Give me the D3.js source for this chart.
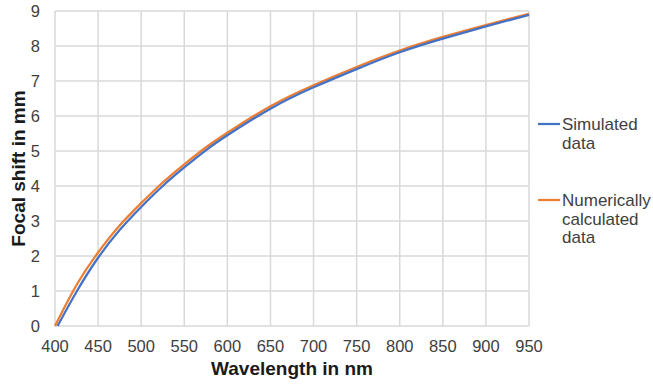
<!DOCTYPE html>
<html>
<head>
<meta charset="utf-8">
<script src="https://cdn.jsdelivr.net/npm/d3@7"></script>
<style>
  body { margin: 0; background: #fff; }
  svg { display: block; font-family: "Liberation Sans", Arial, sans-serif; }
</style>
</head>
<body>
<div id="chart"></div>
<script>
// data
const simWavelengths = [403, 425, 450, 475, 500, 525, 550, 575, 600, 650, 700, 750, 800, 850, 900, 950];
const simShift = [0, 0.98, 1.95, 2.74, 3.4, 4.0, 4.53, 5.02, 5.45, 6.21, 6.82, 7.34, 7.82, 8.21, 8.56, 8.89];
const numWavelengths = [400, 425, 450, 475, 500, 525, 550, 575, 600, 650, 700, 750, 800, 850, 900, 950];
const numShift = [0, 1.17, 2.1, 2.87, 3.51, 4.1, 4.62, 5.1, 5.52, 6.28, 6.88, 7.4, 7.87, 8.26, 8.6, 8.92];
const xTicks = [400, 450, 500, 550, 600, 650, 700, 750, 800, 850, 900, 950];
const yTicks = [0, 1, 2, 3, 4, 5, 6, 7, 8, 9];
const seriesNames = [['Simulated', 'data'], ['Numerically', 'calculated', 'data']];
const colors = ['#4472C4', '#ED7D31'];

const W = 653, H = 387;
const margin = { left: 55, right: 124, top: 11, bottom: 61 };

const svg = d3.select('#chart').append('svg')
  .attr('width', W)
  .attr('height', H);

const x = d3.scaleLinear().domain([400, 950]).range([margin.left, W - margin.right]);
const y = d3.scaleLinear().domain([0, 9]).range([H - margin.bottom, margin.top]);

// grid
svg.append('g')
  .selectAll('line')
  .data(xTicks)
  .enter().append('line')
  .attr('x1', d => x(d)).attr('x2', d => x(d))
  .attr('y1', y(0)).attr('y2', y(9))
  .style('stroke', '#d9d9d9')
  .style('stroke-width', 1.5);

svg.append('g')
  .selectAll('line')
  .data(yTicks)
  .enter().append('line')
  .attr('x1', x(400)).attr('x2', x(950))
  .attr('y1', d => y(d)).attr('y2', d => y(d))
  .style('stroke', '#d9d9d9')
  .style('stroke-width', 1.5);

// tick labels
svg.append('g')
  .selectAll('text')
  .data(xTicks)
  .enter().append('text')
  .attr('x', d => x(d))
  .attr('y', 352)
  .attr('text-anchor', 'middle')
  .style('font-size', '16.5px')
  .style('fill', '#404040')
  .text(d => d);

svg.append('g')
  .selectAll('text')
  .data(yTicks)
  .enter().append('text')
  .attr('x', 40)
  .attr('y', d => y(d) + 6)
  .attr('text-anchor', 'end')
  .style('font-size', '16.5px')
  .style('fill', '#404040')
  .text(d => d);

// axis titles
svg.append('text')
  .attr('x', (x(400) + x(950)) / 2)
  .attr('y', 375)
  .attr('text-anchor', 'middle')
  .style('font-size', '19px')
  .style('font-weight', 'bold')
  .style('fill', '#1a1a1a')
  .text('Wavelength in nm');

svg.append('text')
  .attr('transform', 'translate(25,' + (y(0) + y(9)) / 2 + ') rotate(-90)')
  .attr('text-anchor', 'middle')
  .style('font-size', '19px')
  .style('font-weight', 'bold')
  .style('fill', '#1a1a1a')
  .text('Focal shift in mm');

// lines
const line = d3.line()
  .x(d => x(d[0]))
  .y(d => y(d[1]))
  .curve(d3.curveNatural);

const series = [
  d3.zip(simWavelengths, simShift),
  d3.zip(numWavelengths, numShift)
];

svg.append('path')
  .datum(series[1])
  .attr('d', line)
  .style('fill', 'none')
  .style('stroke', colors[1])
  .style('stroke-width', 2.25);

svg.append('path')
  .datum(series[0])
  .attr('d', line)
  .style('fill', 'none')
  .style('stroke', colors[0])
  .style('stroke-width', 2.25);

// legend
const legendY = [124, 200];
seriesNames.forEach((names, i) => {
  const g = svg.append('g');
  g.append('line')
    .attr('x1', 538).attr('x2', 560)
    .attr('y1', legendY[i]).attr('y2', legendY[i])
    .style('stroke', colors[i])
    .style('stroke-width', 2.25);
  g.selectAll('text')
    .data(names)
    .enter().append('text')
    .attr('x', 562)
    .attr('y', (d, j) => legendY[i] + 6 + j * 18.5)
    .style('font-size', '17px')
    .style('fill', '#404040')
    .text(d => d);
});
</script>
</body>
</html>
